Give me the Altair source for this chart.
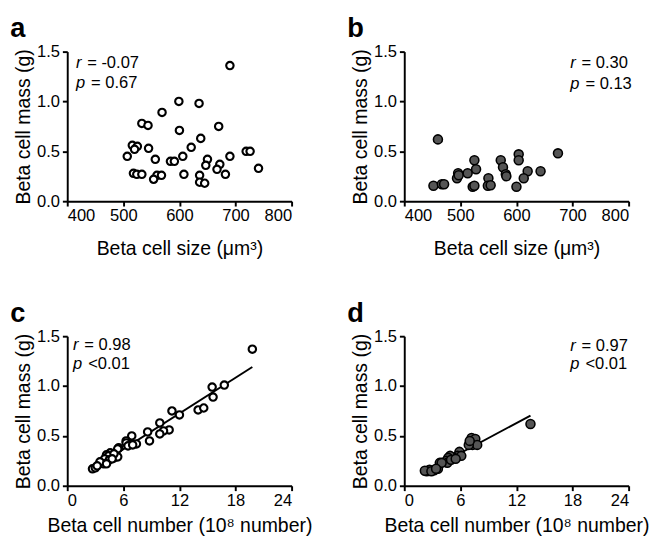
import altair as alt
import pandas as pd

FONT = "Liberation Sans"

# Panel a: beta cell size vs mass (open circles)
size_a = [690, 599, 635, 569, 533, 544, 670, 600, 638, 516, 525, 520, 545, 621, 507, 557, 584, 591, 606,
          650, 647, 672, 667, 690, 719, 726, 741, 682, 518, 524, 533, 560, 568, 554, 608, 636, 636, 645]
mass_a = [1.36, 1.00, 0.98, 0.89, 0.78, 0.76, 0.75, 0.71, 0.63, 0.56, 0.55, 0.52, 0.53, 0.54, 0.45, 0.42, 0.40, 0.40, 0.45,
          0.42, 0.36, 0.37, 0.32, 0.45, 0.50, 0.50, 0.33, 0.27, 0.28, 0.27, 0.27, 0.26, 0.26, 0.22, 0.27, 0.26, 0.19, 0.18]

# Panel b: beta cell size vs mass (filled circles)
size_b = [460, 452, 467, 471, 496, 494, 497, 513, 525, 528, 522, 525, 550, 549, 554,
          572, 576, 581, 582, 604, 604, 600, 620, 613, 643, 674]
mass_b = [0.62, 0.155, 0.17, 0.17, 0.28, 0.23, 0.26, 0.28, 0.41, 0.32, 0.145, 0.155, 0.23, 0.155, 0.16,
          0.41, 0.34, 0.27, 0.25, 0.47, 0.41, 0.145, 0.30, 0.23, 0.30, 0.48]

# Panel c: beta cell number vs mass (open circles)
number_c = [19.8, 16.8, 15.5, 15.6, 14.0, 14.6, 11.2, 12.0, 9.9, 10.9, 10.3, 9.9, 8.6, 8.8, 6.9, 6.3, 6.9, 7.4, 6.3,
            5.5, 5.4, 4.6, 4.2, 4.4, 5.0, 5.4, 4.0, 3.9, 4.5, 3.5, 2.7, 3.0, 6.5, 7.0, 5.0, 4.8, 4.2, 3.2]
mass_c = [1.37, 1.01, 0.99, 0.89, 0.76, 0.78, 0.75, 0.71, 0.63, 0.56, 0.55, 0.52, 0.54, 0.45, 0.50, 0.45, 0.42, 0.42, 0.43,
          0.38, 0.37, 0.33, 0.31, 0.30, 0.28, 0.29, 0.27, 0.22, 0.26, 0.24, 0.17, 0.18, 0.40, 0.41, 0.32, 0.27, 0.22, 0.20]

# Panel d: beta cell number vs mass (filled circles)
number_d = [13.5, 7.2, 7.6, 7.3, 7.8, 6.9, 7.0, 5.9, 5.7, 6.1, 5.3, 4.9, 4.7, 4.5, 4.6, 5.0, 3.8, 3.6, 4.0,
            3.2, 2.7, 2.4, 2.2, 2.9, 5.5, 3.4]
mass_d = [0.62, 0.48, 0.47, 0.41, 0.41, 0.41, 0.45, 0.34, 0.30, 0.30, 0.28, 0.30, 0.28, 0.25, 0.23, 0.26, 0.23, 0.17, 0.23,
          0.155, 0.16, 0.145, 0.15, 0.145, 0.27, 0.17]

size_ticks = [400, 500, 600, 700, 800]
number_ticks = [0, 6, 12, 18, 24]
mass_ticks = [0.0, 0.5, 1.0, 1.5]

W, H = 231, 154


def stats_layers(r_rest, p_rest, x0, y0, y1):
    layers = []
    for letter, rest, y, gap in [("r", r_rest, y0, 11.5), ("p", p_rest, y1, 15.5)]:
        d = alt.Chart(pd.DataFrame({"t": [letter], "u": [rest]}))
        layers.append(d.mark_text(align="left", baseline="middle", fontStyle="italic", fontSize=17,
                                  font=FONT, color="black").encode(x=alt.value(x0), y=alt.value(y), text="t:N"))
        layers.append(d.mark_text(align="left", baseline="middle", fontSize=17,
                                  font=FONT, color="black").encode(x=alt.value(x0 + gap), y=alt.value(y), text="u:N"))
    return layers


def panel(xs, ys, xtitle, xdom, xvals, filled, letter, r_rest, p_rest, sx, sy0, sy1, reg, xtp, ldx):
    df = pd.DataFrame({"x": xs, "mass": ys})
    x = alt.X("x:Q", scale=alt.Scale(domain=xdom, nice=False, zero=False),
              axis=alt.Axis(values=xvals, format="d", title=xtitle, titlePadding=xtp))
    y = alt.Y("mass:Q", scale=alt.Scale(domain=[0, 1.5], nice=False),
              axis=alt.Axis(values=mass_ticks, format=".1f", title="Beta cell mass (g)"))
    if filled:
        pts = alt.Chart(df).mark_point(shape="circle", filled=True, fill="#555555", stroke="black",
                                       strokeWidth=1.6, size=85, opacity=1, fillOpacity=1)
    else:
        pts = alt.Chart(df).mark_point(shape="circle", filled=True, fill="white", stroke="black",
                                       strokeWidth=2.2, size=58, opacity=1, fillOpacity=1)
    layers = []
    if reg:
        layers.append(alt.Chart(df).transform_regression("x", "mass").mark_line(color="black", strokeWidth=2)
                      .encode(x=x, y=y))
    layers.append(pts.encode(x=x, y=y))
    layers += stats_layers(r_rest, p_rest, sx, sy0, sy1)
    return alt.layer(*layers).properties(
        width=W, height=H,
        title=alt.TitleParams(text=letter, anchor="start", frame="bounds", fontSize=28, fontWeight="bold",
                              font=FONT, color="black", offset=0, dx=ldx))


a = panel(size_a, mass_a, "Beta cell size (μm³)", [400, 800], size_ticks, False, "a",
          "= -0.07", "= 0.67", 9, 12, 32, False, 16, -4)
b = panel(size_b, mass_b, "Beta cell size (μm³)", [400, 800], size_ticks, True, "b",
          "= 0.30", "= 0.13", 171, 12, 33, False, 16, -4)
c = panel(number_c, mass_c, "Beta cell number (10⁸ number)", [0, 24], number_ticks, False, "c",
          "= 0.98", "<0.01", 6, 9, 29, True, 8, -4)
d = panel(number_d, mass_d, "Beta cell number (10⁸ number)", [0, 24], number_ticks, True, "d",
          "= 0.97", "<0.01", 171, 10, 29, True, 8, -4)

chart = alt.concat(a, b, c, d, columns=2, spacing={"row": 139, "column": 116}, bounds="flush").properties(
    padding={"left": 2, "top": 0, "right": 0, "bottom": 0}
).configure_view(stroke=None).configure_axis(
    grid=False, domainColor="black", domainWidth=2, tickColor="black", tickWidth=2, tickSize=5,
    labelFont=FONT, labelFontSize=17, labelColor="black", labelPadding=3,
    titleFont=FONT, titleFontSize=20, titleFontWeight="normal", titleColor="black"
).configure_axisY(titlePadding=3).configure_axisX(labelPadding=2)

chart.save("out.html", embed_options={"renderer": "svg", "actions": False})
